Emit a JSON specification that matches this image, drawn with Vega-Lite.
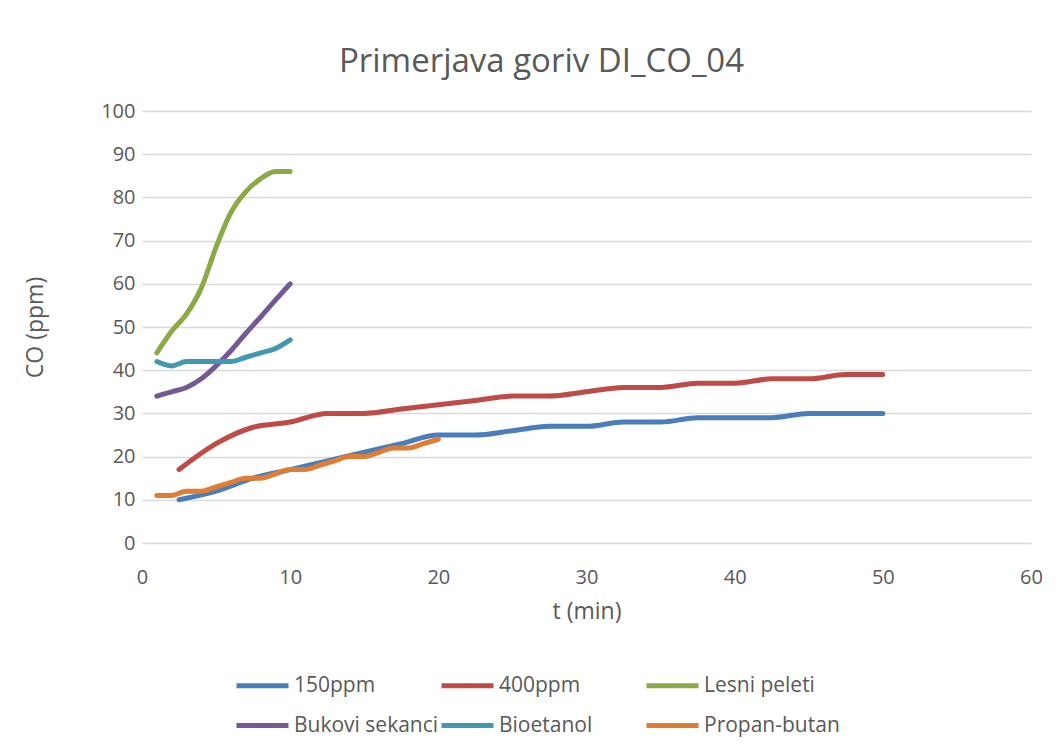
{
  "$schema": "https://vega.github.io/schema/vega-lite/v6.json",
  "width": 889,
  "height": 432,
  "autosize": "none",
  "padding": {"left": 142, "top": 111, "right": 28, "bottom": 213},
  "background": "white",
  "title": {
    "text": "Primerjava goriv DI_CO_04",
    "font": "Open Sans",
    "fontSize": 33,
    "fontWeight": "normal",
    "color": "#595959",
    "anchor": "middle",
    "dx": -45,
    "offset": 22
  },
  "data": {
    "values": [
      {"t": 2.5, "co": 10, "s": "150ppm"},
      {"t": 5, "co": 12, "s": "150ppm"},
      {"t": 7.5, "co": 15, "s": "150ppm"},
      {"t": 10, "co": 17, "s": "150ppm"},
      {"t": 12.5, "co": 19, "s": "150ppm"},
      {"t": 15, "co": 21, "s": "150ppm"},
      {"t": 17.5, "co": 23, "s": "150ppm"},
      {"t": 20, "co": 25, "s": "150ppm"},
      {"t": 22.5, "co": 25, "s": "150ppm"},
      {"t": 25, "co": 26, "s": "150ppm"},
      {"t": 27.5, "co": 27, "s": "150ppm"},
      {"t": 30, "co": 27, "s": "150ppm"},
      {"t": 32.5, "co": 28, "s": "150ppm"},
      {"t": 35, "co": 28, "s": "150ppm"},
      {"t": 37.5, "co": 29, "s": "150ppm"},
      {"t": 40, "co": 29, "s": "150ppm"},
      {"t": 42.5, "co": 29, "s": "150ppm"},
      {"t": 45, "co": 30, "s": "150ppm"},
      {"t": 47.5, "co": 30, "s": "150ppm"},
      {"t": 50, "co": 30, "s": "150ppm"},
      {"t": 2.5, "co": 17, "s": "400ppm"},
      {"t": 5, "co": 23, "s": "400ppm"},
      {"t": 7.5, "co": 26.8, "s": "400ppm"},
      {"t": 10, "co": 28, "s": "400ppm"},
      {"t": 12.5, "co": 30, "s": "400ppm"},
      {"t": 15, "co": 30, "s": "400ppm"},
      {"t": 17.5, "co": 31, "s": "400ppm"},
      {"t": 20, "co": 32, "s": "400ppm"},
      {"t": 22.5, "co": 33, "s": "400ppm"},
      {"t": 25, "co": 34, "s": "400ppm"},
      {"t": 27.5, "co": 34, "s": "400ppm"},
      {"t": 30, "co": 35, "s": "400ppm"},
      {"t": 32.5, "co": 36, "s": "400ppm"},
      {"t": 35, "co": 36, "s": "400ppm"},
      {"t": 37.5, "co": 37, "s": "400ppm"},
      {"t": 40, "co": 37, "s": "400ppm"},
      {"t": 42.5, "co": 38, "s": "400ppm"},
      {"t": 45, "co": 38, "s": "400ppm"},
      {"t": 47.5, "co": 39, "s": "400ppm"},
      {"t": 50, "co": 39, "s": "400ppm"},
      {"t": 1, "co": 44, "s": "Lesni peleti"},
      {"t": 2, "co": 49, "s": "Lesni peleti"},
      {"t": 3, "co": 53, "s": "Lesni peleti"},
      {"t": 4, "co": 59, "s": "Lesni peleti"},
      {"t": 5, "co": 68.5, "s": "Lesni peleti"},
      {"t": 6, "co": 76.5, "s": "Lesni peleti"},
      {"t": 7, "co": 81.3, "s": "Lesni peleti"},
      {"t": 8, "co": 84.3, "s": "Lesni peleti"},
      {"t": 9, "co": 86, "s": "Lesni peleti"},
      {"t": 10, "co": 86, "s": "Lesni peleti"},
      {"t": 1, "co": 34, "s": "Bukovi sekanci"},
      {"t": 2, "co": 35, "s": "Bukovi sekanci"},
      {"t": 3, "co": 36, "s": "Bukovi sekanci"},
      {"t": 4, "co": 38, "s": "Bukovi sekanci"},
      {"t": 5, "co": 41, "s": "Bukovi sekanci"},
      {"t": 6, "co": 44.5, "s": "Bukovi sekanci"},
      {"t": 7, "co": 48.5, "s": "Bukovi sekanci"},
      {"t": 8, "co": 52.3, "s": "Bukovi sekanci"},
      {"t": 9, "co": 56.2, "s": "Bukovi sekanci"},
      {"t": 10, "co": 60, "s": "Bukovi sekanci"},
      {"t": 1, "co": 42, "s": "Bioetanol"},
      {"t": 2, "co": 41, "s": "Bioetanol"},
      {"t": 3, "co": 42, "s": "Bioetanol"},
      {"t": 4, "co": 42, "s": "Bioetanol"},
      {"t": 5, "co": 42, "s": "Bioetanol"},
      {"t": 6, "co": 42, "s": "Bioetanol"},
      {"t": 7, "co": 43, "s": "Bioetanol"},
      {"t": 8, "co": 44, "s": "Bioetanol"},
      {"t": 9, "co": 45, "s": "Bioetanol"},
      {"t": 10, "co": 47, "s": "Bioetanol"},
      {"t": 1, "co": 11, "s": "Propan-butan"},
      {"t": 2, "co": 11, "s": "Propan-butan"},
      {"t": 3, "co": 12, "s": "Propan-butan"},
      {"t": 4, "co": 12, "s": "Propan-butan"},
      {"t": 5, "co": 13, "s": "Propan-butan"},
      {"t": 6, "co": 14, "s": "Propan-butan"},
      {"t": 7, "co": 15, "s": "Propan-butan"},
      {"t": 8, "co": 15, "s": "Propan-butan"},
      {"t": 9, "co": 16, "s": "Propan-butan"},
      {"t": 10, "co": 17, "s": "Propan-butan"},
      {"t": 11, "co": 17, "s": "Propan-butan"},
      {"t": 12, "co": 18, "s": "Propan-butan"},
      {"t": 13, "co": 19, "s": "Propan-butan"},
      {"t": 14, "co": 20, "s": "Propan-butan"},
      {"t": 15, "co": 20, "s": "Propan-butan"},
      {"t": 16, "co": 21, "s": "Propan-butan"},
      {"t": 17, "co": 22, "s": "Propan-butan"},
      {"t": 18, "co": 22, "s": "Propan-butan"},
      {"t": 19, "co": 23, "s": "Propan-butan"},
      {"t": 20, "co": 24, "s": "Propan-butan"}
    ]
  },
  "mark": {"type": "line", "strokeWidth": 5, "interpolate": "monotone", "strokeCap": "round", "strokeJoin": "round"},
  "encoding": {
    "x": {
      "field": "t",
      "type": "quantitative",
      "scale": {"domain": [0, 60], "nice": false},
      "axis": {
        "title": "t (min)",
        "values": [0, 10, 20, 30, 40, 50, 60],
        "grid": false,
        "domain": false,
        "ticks": false,
        "labelFlush": false,
        "labelPadding": 24,
        "titlePadding": 13
      }
    },
    "y": {
      "field": "co",
      "type": "quantitative",
      "scale": {"domain": [0, 100], "nice": false},
      "axis": {
        "title": "CO (ppm)",
        "values": [0, 10, 20, 30, 40, 50, 60, 70, 80, 90, 100],
        "grid": true,
        "domain": false,
        "ticks": false,
        "labelPadding": 7,
        "titlePadding": 53
      }
    },
    "color": {
      "field": "s",
      "type": "nominal",
      "sort": ["150ppm", "400ppm", "Lesni peleti", "Bukovi sekanci", "Bioetanol", "Propan-butan"],
      "scale": {
        "domain": ["150ppm", "400ppm", "Lesni peleti", "Bukovi sekanci", "Bioetanol", "Propan-butan"],
        "range": ["#4A7EBB", "#BE4B48", "#8AAA48", "#735A97", "#4099B1", "#E07D35"]
      },
      "legend": {
        "title": null,
        "orient": "none",
        "legendX": 92,
        "legendY": 546,
        "direction": "horizontal",
        "columns": 3,
        "gridAlign": "all",
        "symbolType": "stroke",
        "symbolSize": 2704,
        "symbolStrokeWidth": 5,
        "labelOffset": 3,
        "rowPadding": 1,
        "columnPadding": -12,
        "padding": 0
      }
    }
  },
  "config": {
    "font": "Open Sans",
    "view": {"stroke": null},
    "axis": {
      "labelFont": "Open Sans",
      "labelFontSize": 20,
      "labelColor": "#595959",
      "titleFont": "Open Sans",
      "titleFontSize": 23,
      "titleFontWeight": "normal",
      "titleColor": "#595959",
      "gridColor": "#D9D9D9",
      "gridWidth": 1.5,
      "gridOpacity": 1
    },
    "legend": {
      "labelFont": "Open Sans",
      "labelFontSize": 21,
      "labelColor": "#595959",
      "labelLimit": 300
    }
  }
}
